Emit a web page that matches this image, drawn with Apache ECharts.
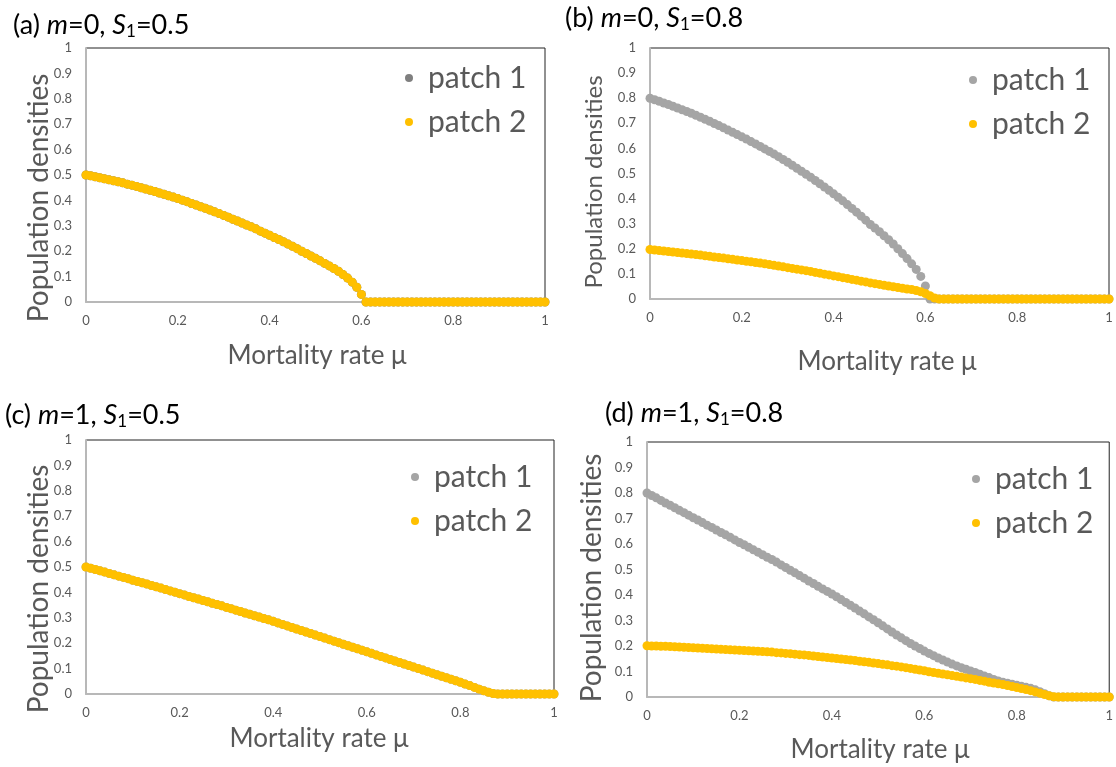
<!DOCTYPE html>
<html>
<head>
<meta charset="utf-8">
<script src="https://cdn.jsdelivr.net/npm/echarts@6/dist/echarts.min.js"></script>
<style>
html,body{margin:0;padding:0;background:#fff;}
#chart{width:1116px;height:767px;}
</style>
</head>
<body>
<div id="chart"></div>
<script>
// x values: mortality rate mu
const mu = [0,0.01,0.02,0.03,0.04,0.05,0.06,0.07,0.08,0.09,
0.10,0.11,0.12,0.13,0.14,0.15,0.16,0.17,0.18,0.19,
0.20,0.21,0.22,0.23,0.24,0.25,0.26,0.27,0.28,0.29,
0.30,0.31,0.32,0.33,0.34,0.35,0.36,0.37,0.38,0.39,
0.40,0.41,0.42,0.43,0.44,0.45,0.46,0.47,0.48,0.49,
0.50,0.51,0.52,0.53,0.54,0.55,0.56,0.57,0.58,0.59,
0.60,0.61,0.62,0.63,0.64,0.65,0.66,0.67,0.68,0.69,
0.70,0.71,0.72,0.73,0.74,0.75,0.76,0.77,0.78,0.79,
0.80,0.81,0.82,0.83,0.84,0.85,0.86,0.87,0.88,0.89,
0.90,0.91,0.92,0.93,0.94,0.95,0.96,0.97,0.98,0.99,1.00];

// (a) m=0, S1=0.5 : patch 1 and patch 2 coincide
const aPatch1 = [0.500,0.497,0.493,0.489,0.485,0.481,0.477,0.473,0.469,0.464,
0.460,0.455,0.450,0.445,0.440,0.435,0.429,0.424,0.418,0.413,
0.407,0.401,0.395,0.388,0.382,0.375,0.369,0.362,0.355,0.348,
0.341,0.334,0.326,0.319,0.311,0.303,0.296,0.288,0.279,0.271,
0.263,0.254,0.246,0.237,0.228,0.219,0.210,0.200,0.191,0.181,
0.172,0.162,0.152,0.142,0.132,0.121,0.108,0.094,0.078,0.058,
0.030,0,0,0,0,0,0,0,0,0,
0,0,0,0,0,0,0,0,0,0,
0,0,0,0,0,0,0,0,0,0,
0,0,0,0,0,0,0,0,0,0,0];
const aPatch2 = [0.500,0.497,0.493,0.489,0.485,0.481,0.477,0.473,0.469,0.464,
0.460,0.455,0.450,0.445,0.440,0.435,0.429,0.424,0.418,0.413,
0.407,0.401,0.395,0.388,0.382,0.375,0.369,0.362,0.355,0.348,
0.341,0.334,0.326,0.319,0.311,0.303,0.296,0.288,0.279,0.271,
0.263,0.254,0.246,0.237,0.228,0.219,0.210,0.200,0.191,0.181,
0.172,0.162,0.152,0.142,0.132,0.121,0.108,0.094,0.078,0.058,
0.030,0,0,0,0,0,0,0,0,0,
0,0,0,0,0,0,0,0,0,0,
0,0,0,0,0,0,0,0,0,0,
0,0,0,0,0,0,0,0,0,0,0];

// (b) m=0, S1=0.8
const bPatch1 = [0.800,0.794,0.788,0.781,0.775,0.768,0.761,0.754,0.747,0.740,
0.732,0.724,0.716,0.708,0.699,0.691,0.682,0.673,0.664,0.655,
0.646,0.637,0.627,0.618,0.608,0.598,0.588,0.578,0.567,0.556,
0.545,0.533,0.521,0.509,0.497,0.485,0.472,0.459,0.446,0.433,
0.419,0.405,0.391,0.376,0.361,0.346,0.330,0.314,0.297,0.283,
0.268,0.252,0.236,0.219,0.200,0.181,0.161,0.140,0.118,0.090,
0.052,0,0,0,0,0,0,0,0,0,
0,0,0,0,0,0,0,0,0,0,
0,0,0,0,0,0,0,0,0,0,
0,0,0,0,0,0,0,0,0,0,0];
const bPatch2 = [0.197,0.195,0.193,0.191,0.189,0.187,0.185,0.183,0.181,0.179,
0.177,0.175,0.172,0.170,0.167,0.165,0.163,0.160,0.158,0.155,
0.153,0.150,0.148,0.145,0.143,0.140,0.137,0.134,0.131,0.128,
0.125,0.122,0.119,0.116,0.113,0.110,0.106,0.103,0.099,0.096,
0.092,0.089,0.085,0.082,0.078,0.075,0.071,0.068,0.064,0.061,
0.058,0.055,0.052,0.049,0.046,0.043,0.040,0.038,0.034,0.029,
0.022,0.013,0.004,0,0,0,0,0,0,0,
0,0,0,0,0,0,0,0,0,0,
0,0,0,0,0,0,0,0,0,0,
0,0,0,0,0,0,0,0,0,0,0];

// (c) m=1, S1=0.5 : patch 1 and patch 2 coincide
const cPatch1 = [0.500,0.495,0.490,0.485,0.480,0.474,0.469,0.464,0.459,0.454,
0.448,0.443,0.438,0.433,0.427,0.422,0.417,0.411,0.406,0.401,
0.395,0.390,0.384,0.379,0.374,0.368,0.363,0.357,0.352,0.347,
0.341,0.336,0.330,0.325,0.319,0.314,0.308,0.303,0.297,0.292,
0.286,0.280,0.274,0.268,0.262,0.256,0.250,0.244,0.238,0.232,
0.226,0.220,0.214,0.208,0.202,0.196,0.190,0.184,0.178,0.172,
0.166,0.160,0.154,0.148,0.142,0.136,0.130,0.124,0.118,0.112,
0.106,0.100,0.094,0.088,0.082,0.076,0.070,0.064,0.058,0.052,
0.046,0.039,0.033,0.026,0.019,0.013,0.007,0.002,0,0,
0,0,0,0,0,0,0,0,0,0,0];
const cPatch2 = [0.500,0.495,0.490,0.485,0.480,0.474,0.469,0.464,0.459,0.454,
0.448,0.443,0.438,0.433,0.427,0.422,0.417,0.411,0.406,0.401,
0.395,0.390,0.384,0.379,0.374,0.368,0.363,0.357,0.352,0.347,
0.341,0.336,0.330,0.325,0.319,0.314,0.308,0.303,0.297,0.292,
0.286,0.280,0.274,0.268,0.262,0.256,0.250,0.244,0.238,0.232,
0.226,0.220,0.214,0.208,0.202,0.196,0.190,0.184,0.178,0.172,
0.166,0.160,0.154,0.148,0.142,0.136,0.130,0.124,0.118,0.112,
0.106,0.100,0.094,0.088,0.082,0.076,0.070,0.064,0.058,0.052,
0.046,0.039,0.033,0.026,0.019,0.013,0.007,0.002,0,0,
0,0,0,0,0,0,0,0,0,0,0];

// (d) m=1, S1=0.8
const dPatch1 = [0.800,0.790,0.781,0.771,0.761,0.752,0.742,0.732,0.723,0.713,
0.703,0.694,0.684,0.674,0.665,0.655,0.645,0.636,0.626,0.616,
0.606,0.597,0.587,0.577,0.568,0.558,0.548,0.539,0.529,0.518,
0.508,0.497,0.487,0.476,0.466,0.455,0.445,0.434,0.424,0.414,
0.404,0.393,0.382,0.371,0.360,0.349,0.337,0.326,0.314,0.303,
0.291,0.279,0.267,0.255,0.243,0.232,0.221,0.210,0.200,0.190,
0.180,0.171,0.162,0.153,0.145,0.137,0.129,0.122,0.115,0.109,
0.102,0.096,0.089,0.082,0.076,0.069,0.063,0.058,0.054,0.050,
0.046,0.042,0.038,0.034,0.028,0.021,0.013,0.005,0,0,
0,0,0,0,0,0,0,0,0,0,0];
const dPatch2 = [0.201,0.200,0.200,0.199,0.199,0.198,0.197,0.196,0.195,0.194,
0.193,0.192,0.191,0.190,0.189,0.188,0.187,0.186,0.185,0.184,
0.183,0.182,0.181,0.180,0.179,0.178,0.177,0.176,0.174,0.173,
0.171,0.170,0.168,0.166,0.165,0.163,0.161,0.159,0.157,0.155,
0.153,0.151,0.149,0.147,0.145,0.143,0.140,0.138,0.136,0.133,
0.131,0.128,0.126,0.123,0.121,0.118,0.115,0.112,0.109,0.106,
0.103,0.099,0.096,0.093,0.090,0.087,0.084,0.081,0.078,0.075,
0.072,0.069,0.065,0.062,0.058,0.055,0.052,0.049,0.045,0.041,
0.037,0.033,0.029,0.025,0.020,0.015,0.010,0.005,0.001,0,
0,0,0,0,0,0,0,0,0,0,0];

const panelLetters = ['(a)','(b)','(c)','(d)'];
const panelM = ['0','0','1','1'];
const panelS1 = ['0.5','0.8','0.5','0.8'];
const seriesNames = ['patch 1','patch 2'];
const xTitle = 'Mortality rate μ';
const yTitle = 'Population densities';

const panelData = [[aPatch1,aPatch2],[bPatch1,bPatch2],[cPatch1,cPatch2],[dPatch1,dPatch2]];

// layout (pixels)
const grids = [
  {left:86, top:48, width:459, height:254},
  {left:650, top:48, width:459, height:251},
  {left:86, top:440, width:468, height:254},
  {left:647, top:442, width:466, height:255}
];
const titlePos = [[13,25],[565,18],[5,415],[605,413]];
const xTitlePos = [[317,356],[887,362],[319,739],[880,750]];
const yTitlePos = [[39,198,28],[594,182,24],[39,589,28],[592,578,28]];
const legendPos = [[405,63],[969,65],[411,462],[972,464]];
const p1Colors = ['#7f7f7f','#a5a5a5','#a5a5a5','#a5a5a5'];
const p2Color = '#ffc000';
const FONT = 'Lato, "Open Sans", sans-serif';
const labelColor = '#595959';

const chart = echarts.init(document.getElementById('chart'), null, {renderer:'canvas'});

const option = {
  animation:false,
  backgroundColor:'#fff',
  grid: grids.map(g => Object.assign({show:true, borderColor:'#222', borderWidth:1, backgroundColor:'transparent', containLabel:false}, g)),
  xAxis: grids.map((g,i) => ({
    gridIndex:i, type:'value', min:0, max:1, interval:0.2,
    axisLine:{show:true, onZero:false, lineStyle:{color:'#b8b8b8', width:2}},
    axisTick:{show:false}, splitLine:{show:false},
    axisLabel:{margin:12, fontSize:13, color:labelColor, fontFamily:FONT}
  })),
  yAxis: grids.map((g,i) => ({
    gridIndex:i, type:'value', min:0, max:1, interval:0.1,
    axisLine:{show:true, onZero:false, lineStyle:{color:'#b8b8b8', width:2}},
    axisTick:{show:false}, splitLine:{show:false},
    axisLabel:{margin:14, fontSize:13, color:labelColor, fontFamily:FONT}
  })),
  legend: grids.map((g,i) => ({
    orient:'vertical', left:legendPos[i][0], top:legendPos[i][1], padding:0,
    itemWidth:8, itemHeight:8, itemGap:14, icon:'circle',
    textStyle:{fontSize:30, lineHeight:30, color:labelColor, fontFamily:FONT, padding:[0,0,0,10]},
    data:[{name:seriesNames[0], itemStyle:{color:p1Colors[i], opacity:1}}, {name:seriesNames[1], itemStyle:{color:p2Color, opacity:1}}],
    selectedMode:false
  })),
  series: [],
  graphic: []
};

panelData.forEach((pair,i) => {
  pair.forEach((arr,k) => {
    option.series.push({
      type:'scatter', name:seriesNames[k], xAxisIndex:i, yAxisIndex:i,
      symbol:'circle', symbolSize:9,
      itemStyle:{color: k===0 ? p1Colors[i] : p2Color, opacity:1},
      emphasis:{disabled:true},
      data: mu.map((x,j) => [x, arr[j]]),
      z: 2 + k
    });
  });
  option.graphic.push({
    type:'text', left:titlePos[i][0], top:titlePos[i][1]-17,
    style:{
      text: panelLetters[i] + ' {i|m}=' + panelM[i] + ', {i|S}{s|1}=' + panelS1[i],
      fontSize:27, fontFamily:FONT, fill:'#000',
      rich:{
        i:{fontStyle:'italic', fontSize:27, fontFamily:FONT, fill:'#000', lineHeight:34, verticalAlign:'middle'},
        s:{fontSize:17, fontFamily:FONT, fill:'#000', lineHeight:34, verticalAlign:'middle', padding:[13,0,0,0]}
      },
      lineHeight:34, verticalAlign:'middle'
    }
  });
  option.graphic.push({
    type:'text', x:xTitlePos[i][0], y:xTitlePos[i][1],
    style:{text:xTitle, fontSize:26, fontFamily:FONT, fill:labelColor, align:'center', verticalAlign:'middle'}
  });
  option.graphic.push({
    type:'text', x:yTitlePos[i][0], y:yTitlePos[i][1], rotation:Math.PI/2,
    style:{text:yTitle, fontSize:yTitlePos[i][2], fontFamily:FONT, fill:labelColor, align:'center', verticalAlign:'middle'}
  });
});

chart.setOption(option);
</script>
</body>
</html>
